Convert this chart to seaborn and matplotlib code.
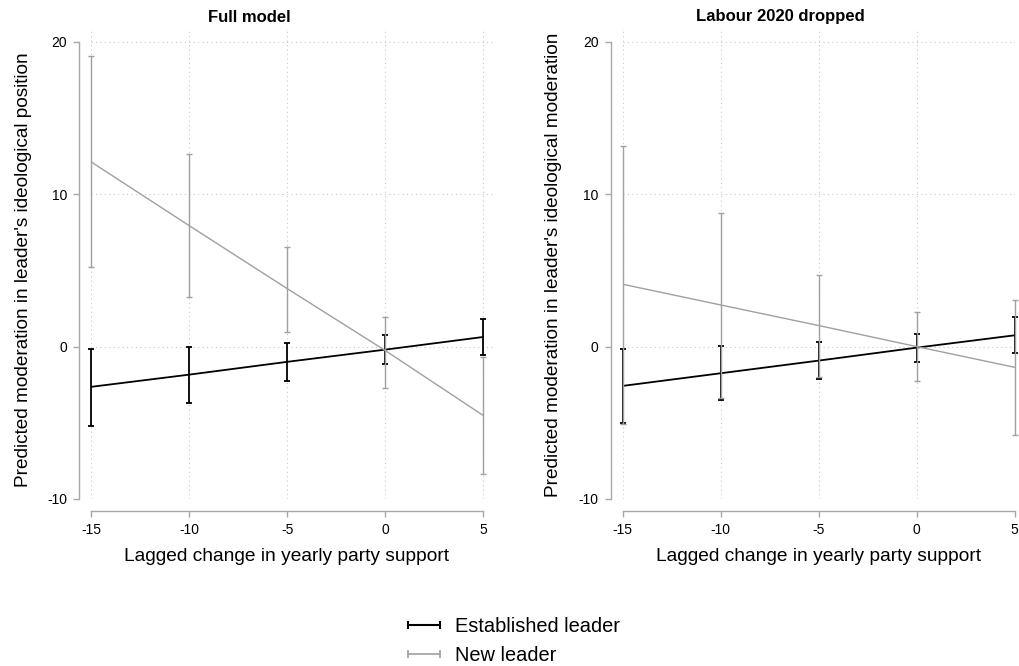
import numpy as np
import pandas as pd
import matplotlib
matplotlib.use("Agg")
import matplotlib.pyplot as plt
import seaborn as sns
from matplotlib.lines import Line2D

# ---- data ----
support_change = [-15, -10, -5, 0, 5]

# Full model
full_est = [-2.64, -1.84, -1.00, -0.20, 0.63]
full_est_lo = [-5.20, -3.67, -2.25, -1.14, -0.57]
full_est_hi = [-0.15, 0.00, 0.22, 0.77, 1.84]
full_new = [12.11, 7.93, 3.80, -0.26, -4.52]
full_new_lo = [5.25, 3.28, 0.98, -2.71, -8.39]
full_new_hi = [19.04, 12.63, 6.56, 1.97, -0.70]

# Labour 2020 dropped
drop_est = [-2.58, -1.75, -0.92, -0.07, 0.74]
drop_est_lo = [-5.03, -3.50, -2.10, -1.00, -0.42]
drop_est_hi = [-0.15, 0.02, 0.28, 0.83, 1.92]
drop_new = [4.09, 2.73, 1.38, 0.00, -1.36]
drop_new_lo = [-5.05, -3.39, -1.97, -2.25, -5.77]
drop_new_hi = [13.18, 8.79, 4.68, 2.27, 3.08]

panel_titles = ["Full model", "Labour 2020 dropped"]
y_labels = ["Predicted moderation in leader's ideological position",
            "Predicted moderation in leader's ideological moderation"]
x_label = "Lagged change in yearly party support"
series_names = ["Established leader", "New leader"]
x_ticks = [-15, -10, -5, 0, 5]
y_ticks = [-10, 0, 10, 20]

# ---- style ----
sns.set_style("white")
plt.rcParams['font.family'] = ['Liberation Sans', 'DejaVu Sans']
plt.rcParams['text.color'] = 'black'
plt.rcParams['axes.labelcolor'] = 'black'
plt.rcParams['xtick.color'] = 'black'
plt.rcParams['ytick.color'] = 'black'

BLACK = "#000000"
GRAY = "#a0a0a0"
AXGRAY = "#a8a8a8"

W, H = 1019, 666
fig = plt.figure(figsize=(W / 100, H / 100), dpi=100)

def frac_box(x0, x1, ytop, ybot):
    return [x0 / W, 1 - ybot / H, (x1 - x0) / W, (ybot - ytop) / H]

ax1 = fig.add_axes(frac_box(91.3, 495.0, 30.0, 499.0))
ax2 = fig.add_axes(frac_box(622.7, 1014.7, 30.0, 499.0))

panels = [
    (ax1, (full_est, full_est_lo, full_est_hi), (full_new, full_new_lo, full_new_hi),
     (-15, 5.6), (-0.147, 0.49), 0.484),
    (ax2, (drop_est, drop_est_lo, drop_est_hi), (drop_new, drop_new_lo, drop_new_hi),
     (-15, 5.0), (-0.156, 0.499), 0.5),
]

for i, (ax, est, new, xl, ylc, xlc) in enumerate(panels):
    x = np.array(support_change, dtype=float)
    for (m, lo, hi), col, lw in [(est, BLACK, 1.3), (new, GRAY, 1.0)]:
        m = np.array(m); lo = np.array(lo); hi = np.array(hi)
        ax.errorbar(x, m, yerr=[m - lo, hi - m], fmt='none', ecolor=col,
                    elinewidth=lw, capsize=2.0, capthick=lw, clip_on=False, zorder=3)
        sns.lineplot(x=x, y=m, color=col, linewidth=lw, ax=ax, zorder=3)

    ax.set_xlim(*xl)
    ax.set_ylim(-10, 20.77)
    ax.set_xticks(x_ticks)
    ax.set_yticks(y_ticks)
    ax.set_xticklabels([str(t) for t in x_ticks], fontsize=11)
    ax.set_yticklabels([str(t) for t in y_ticks], fontsize=11)
    ax.grid(True, linestyle=(0, (1, 3)), color="#c8c8c8", linewidth=0.8)
    for s in ["top", "right"]:
        ax.spines[s].set_visible(False)
    for s in ["left", "bottom"]:
        ax.spines[s].set_color(AXGRAY)
        ax.spines[s].set_linewidth(1.0)
        ax.spines[s].set_position(("outward", 8.6))
    ax.spines["left"].set_bounds(-10, 20)
    ax.spines["bottom"].set_bounds(-15, 5)
    ax.tick_params(axis="both", which="major", direction="out", length=4.3, width=1.0,
                   color=AXGRAY, labelcolor="black", pad=4.5,
                   bottom=True, left=True, top=False, right=False)
    ax.set_xlabel(x_label, fontsize=13.8, labelpad=8.0)
    ax.xaxis.label.set_x(xlc)
    ax.set_ylabel(y_labels[i], fontsize=13.7)
    ax.yaxis.set_label_coords(*ylc)

fig.text(249 / W, 1 - 17 / H, panel_titles[0], fontsize=12, fontweight="bold",
         ha="center", va="center")
fig.text(780 / W, 1 - 17 / H, panel_titles[1], fontsize=12, fontweight="bold",
         ha="center", va="center")

handles = [Line2D([0], [0], color=BLACK, linewidth=1.5, marker='|', markersize=6,
                  markeredgewidth=1.5),
           Line2D([0], [0], color=GRAY, linewidth=1.2, marker='|', markersize=6,
                  markeredgewidth=1.2)]
fig.legend(handles, series_names, loc="center",
           bbox_to_anchor=(511 / W, 1 - 641 / H), frameon=False,
           fontsize=14.4, numpoints=2, handlelength=2.2, handletextpad=0.45,
           labelspacing=0.5, borderpad=0)

fig.savefig("out.png", dpi=100)
